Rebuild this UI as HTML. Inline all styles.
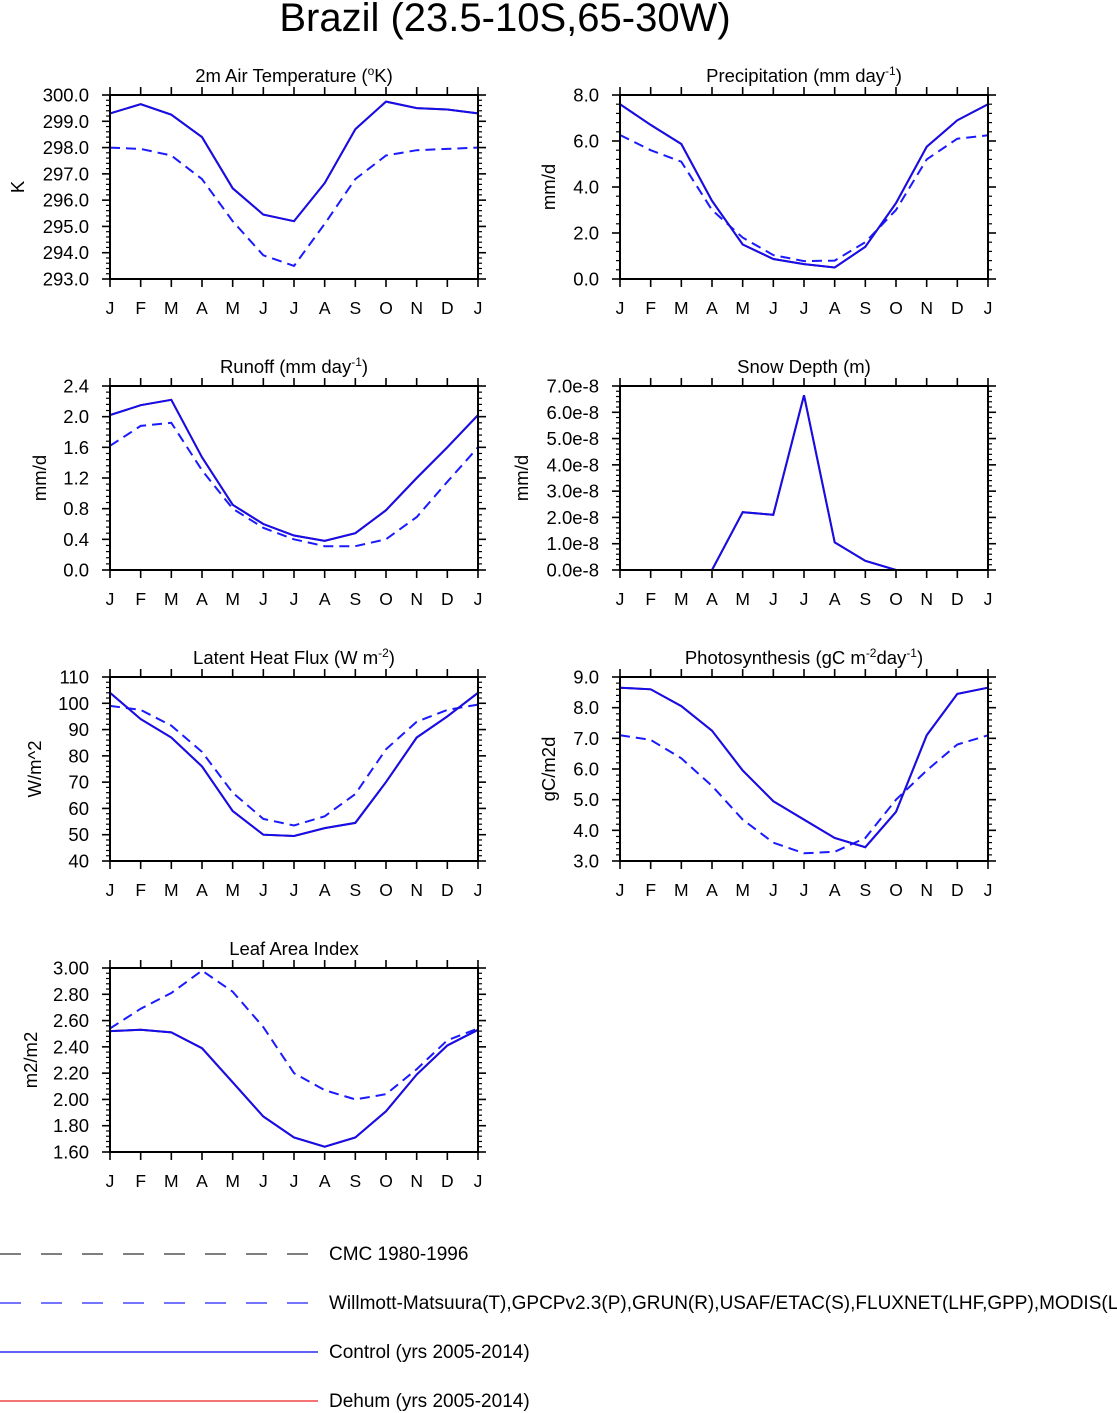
<!DOCTYPE html>
<html><head><meta charset="utf-8"><style>
html,body{margin:0;padding:0;background:#fff;}
svg{display:block;font-family:"Liberation Sans",Arial,sans-serif;}
</style></head><body>
<svg id="fig" width="1117" height="1413" viewBox="0 0 1117 1413" xmlns="http://www.w3.org/2000/svg">
<text x="505" y="31" font-size="40" text-anchor="middle">Brazil (23.5-10S,65-30W)</text>
<g id="panels"></g>
<g>
  <line x1="0" y1="1254" x2="318" y2="1254" stroke="#333" stroke-width="1.3" stroke-dasharray="21 20"/>
  <text x="329" y="1260" font-size="19">CMC 1980-1996</text>
  <line x1="0" y1="1303" x2="318" y2="1303" stroke="#2222ff" stroke-width="1.3" stroke-dasharray="21 20"/>
  <text x="329" y="1309" font-size="19">Willmott-Matsuura(T),GPCPv2.3(P),GRUN(R),USAF/ETAC(S),FLUXNET(LHF,GPP),MODIS(LAI)</text>
  <line x1="0" y1="1352" x2="318" y2="1352" stroke="#0000ee" stroke-width="1.3"/>
  <text x="329" y="1358" font-size="19">Control (yrs 2005-2014)</text>
  <line x1="0" y1="1401" x2="318" y2="1401" stroke="#ee2222" stroke-width="1.3"/>
  <text x="329" y="1407" font-size="19">Dehum (yrs 2005-2014)</text>
</g>
</svg>
<script>
const months = ["J","F","M","A","M","J","J","A","S","O","N","D","J"];
const tempCtl = [299.3,299.65,299.25,298.4,296.45,295.45,295.2,296.65,298.7,299.75,299.5,299.45,299.3];
const tempObs = [298.0,297.95,297.7,296.8,295.2,293.9,293.5,295.1,296.8,297.7,297.9,297.95,298.0];
const tempTicks = ["293.0","294.0","295.0","296.0","297.0","298.0","299.0","300.0"];
const precCtl = [7.6,6.7,5.87,3.4,1.5,0.87,0.65,0.5,1.4,3.3,5.75,6.9,7.6];
const precObs = [6.26,5.6,5.1,3.0,1.8,1.04,0.78,0.8,1.6,3.0,5.2,6.1,6.25];
const precTicks = ["0.0","2.0","4.0","6.0","8.0"];
const runCtl = [2.02,2.15,2.22,1.47,0.85,0.6,0.45,0.38,0.48,0.78,1.2,1.6,2.02];
const runObs = [1.62,1.88,1.92,1.3,0.8,0.55,0.4,0.31,0.31,0.4,0.69,1.15,1.6];
const runTicks = ["0.0","0.4","0.8","1.2","1.6","2.0","2.4"];
const snowCtl = [0,0,0,0,2.2,2.1,6.65,1.05,0.35,0,0,0,0];
const snowObs = [0,0,0,0,0,0,0,0,0,0,0,0,0];
const snowTicks = ["0.0e-8","1.0e-8","2.0e-8","3.0e-8","4.0e-8","5.0e-8","6.0e-8","7.0e-8"];
const lhfCtl = [104,94,87,76,59,50,49.5,52.5,54.5,70,87,95,104];
const lhfObs = [99,97.5,91.5,81.5,66,56,53.5,57,65.5,82.5,93,97.5,99.5];
const lhfTicks = ["40","50","60","70","80","90","100","110"];
const gppCtl = [8.65,8.6,8.05,7.25,5.95,4.95,4.35,3.75,3.45,4.6,7.1,8.45,8.65];
const gppObs = [7.1,6.95,6.35,5.45,4.35,3.6,3.25,3.3,3.75,5.0,5.95,6.8,7.1];
const gppTicks = ["3.0","4.0","5.0","6.0","7.0","8.0","9.0"];
const laiCtl = [2.52,2.53,2.51,2.39,2.13,1.87,1.71,1.64,1.71,1.91,2.19,2.41,2.53];
const laiObs = [2.54,2.69,2.81,2.98,2.82,2.55,2.2,2.07,2.0,2.04,2.23,2.45,2.54];
const laiTicks = ["1.60","1.80","2.00","2.20","2.40","2.60","2.80","3.00"];

const NS="http://www.w3.org/2000/svg";
const root=document.getElementById('panels');
function mk(tag,attrs,parent){const e=document.createElementNS(NS,tag);for(const k in attrs)e.setAttribute(k,attrs[k]);parent.appendChild(e);return e;}

function panel(id,x0,y0,titleHTML,ylab,ylabX,ticks,ctl,obs,scale){
  const W=368,H=184;
  const g=mk('g',{},root);
  
  
  const lo=parseFloat(ticks[0])/scale, hi=parseFloat(ticks[ticks.length-1])/scale;
  const xs=i=>x0+i*W/(months.length-1);
  const ys=v=>y0+H-(v-lo)/(hi-lo)*H;
  const t=mk('text',{x:x0+W/2,y:y0-13,'font-size':18.5,'text-anchor':'middle'},g);
  t.innerHTML=titleHTML;
  
  
  const yl=mk('text',{x:ylabX,y:y0+H/2,'font-size':18.5,'text-anchor':'middle',transform:`rotate(-90 ${ylabX} ${y0+H/2})`},g);
  yl.textContent=ylab;
  
  
  const n=ticks.length;
  for(let i=0;i<n;i++){
    const v=parseFloat(ticks[i])/scale, y=ys(v);
    mk('line',{x1:x0-8,y1:y,x2:x0,y2:y,stroke:'#000','stroke-width':1.6},g);
    mk('line',{x1:x0+W,y1:y,x2:x0+W+8,y2:y,stroke:'#000','stroke-width':1.6},g);
    const tl=mk('text',{x:x0-21,y:y+6.5,'font-size':18.5,'text-anchor':'end'},g);
    tl.textContent=ticks[i];
    
    
    if(i<n-1){
      const step=(parseFloat(ticks[i+1])-parseFloat(ticks[i]))/scale;
      for(let k=1;k<5;k++){const ym=ys(v+step*k/5);
        mk('line',{x1:x0-4,y1:ym,x2:x0,y2:ym,stroke:'#000','stroke-width':1.2},g);
        mk('line',{x1:x0+W,y1:ym,x2:x0+W+4,y2:ym,stroke:'#000','stroke-width':1.2},g);}
    }
  }
  for(let i=0;i<months.length;i++){
    const x=xs(i);
    mk('line',{x1:x,y1:y0-8,x2:x,y2:y0,stroke:'#000','stroke-width':1.6},g);
    mk('line',{x1:x,y1:y0+H,x2:x,y2:y0+H+8,stroke:'#000','stroke-width':1.6},g);
    const ml=mk('text',{x:x,y:y0+H+35,'font-size':17.5,'text-anchor':'middle'},g);
    ml.textContent=months[i];
    
    
  }
  const pts=a=>a.map((v,i)=>xs(i).toFixed(1)+','+ys(v).toFixed(1)).join(' ');
  const po=mk('polyline',{points:pts(obs),fill:'none',stroke:'#1a1aff','stroke-width':2,'stroke-dasharray':'10 6'},g);
  
  
  const pr=mk('polyline',{points:pts(ctl),fill:'none',stroke:'#cc0000','stroke-width':2},g);
  
  
  const pc=mk('polyline',{points:pts(ctl),fill:'none',stroke:'#1010ee','stroke-width':2},g);
  
  
  const fr=mk('rect',{x:x0,y:y0,width:W,height:H,fill:'none',stroke:'#000','stroke-width':2},g);
  
  
}
panel('temperature',110,95,'2m Air Temperature (<tspan font-size="12" dy="-7">o</tspan><tspan dy="7">K)</tspan>','K',24,tempTicks,tempCtl,tempObs,1);
panel('precipitation',620,95,'Precipitation (mm day<tspan font-size="12" dy="-7">-1</tspan><tspan dy="7">)</tspan>','mm/d',555,precTicks,precCtl,precObs,1);
panel('runoff',110,386,'Runoff (mm day<tspan font-size="12" dy="-7">-1</tspan><tspan dy="7">)</tspan>','mm/d',46,runTicks,runCtl,runObs,1);
panel('snow-depth',620,386,'Snow Depth (m)','mm/d',528,snowTicks,snowCtl,snowObs,1e-8);
panel('latent-heat',110,677,'Latent Heat Flux (W m<tspan font-size="12" dy="-7">-2</tspan><tspan dy="7">)</tspan>','W/m^2',41,lhfTicks,lhfCtl,lhfObs,1);
panel('photosynthesis',620,677,'Photosynthesis (gC m<tspan font-size="12" dy="-7">-2</tspan><tspan dy="7">day</tspan><tspan font-size="12" dy="-7">-1</tspan><tspan dy="7">)</tspan>','gC/m2d',555,gppTicks,gppCtl,gppObs,1);
panel('leaf-area-index',110,968,'Leaf Area Index','m2/m2',37,laiTicks,laiCtl,laiObs,1);
</script>
</body></html>
